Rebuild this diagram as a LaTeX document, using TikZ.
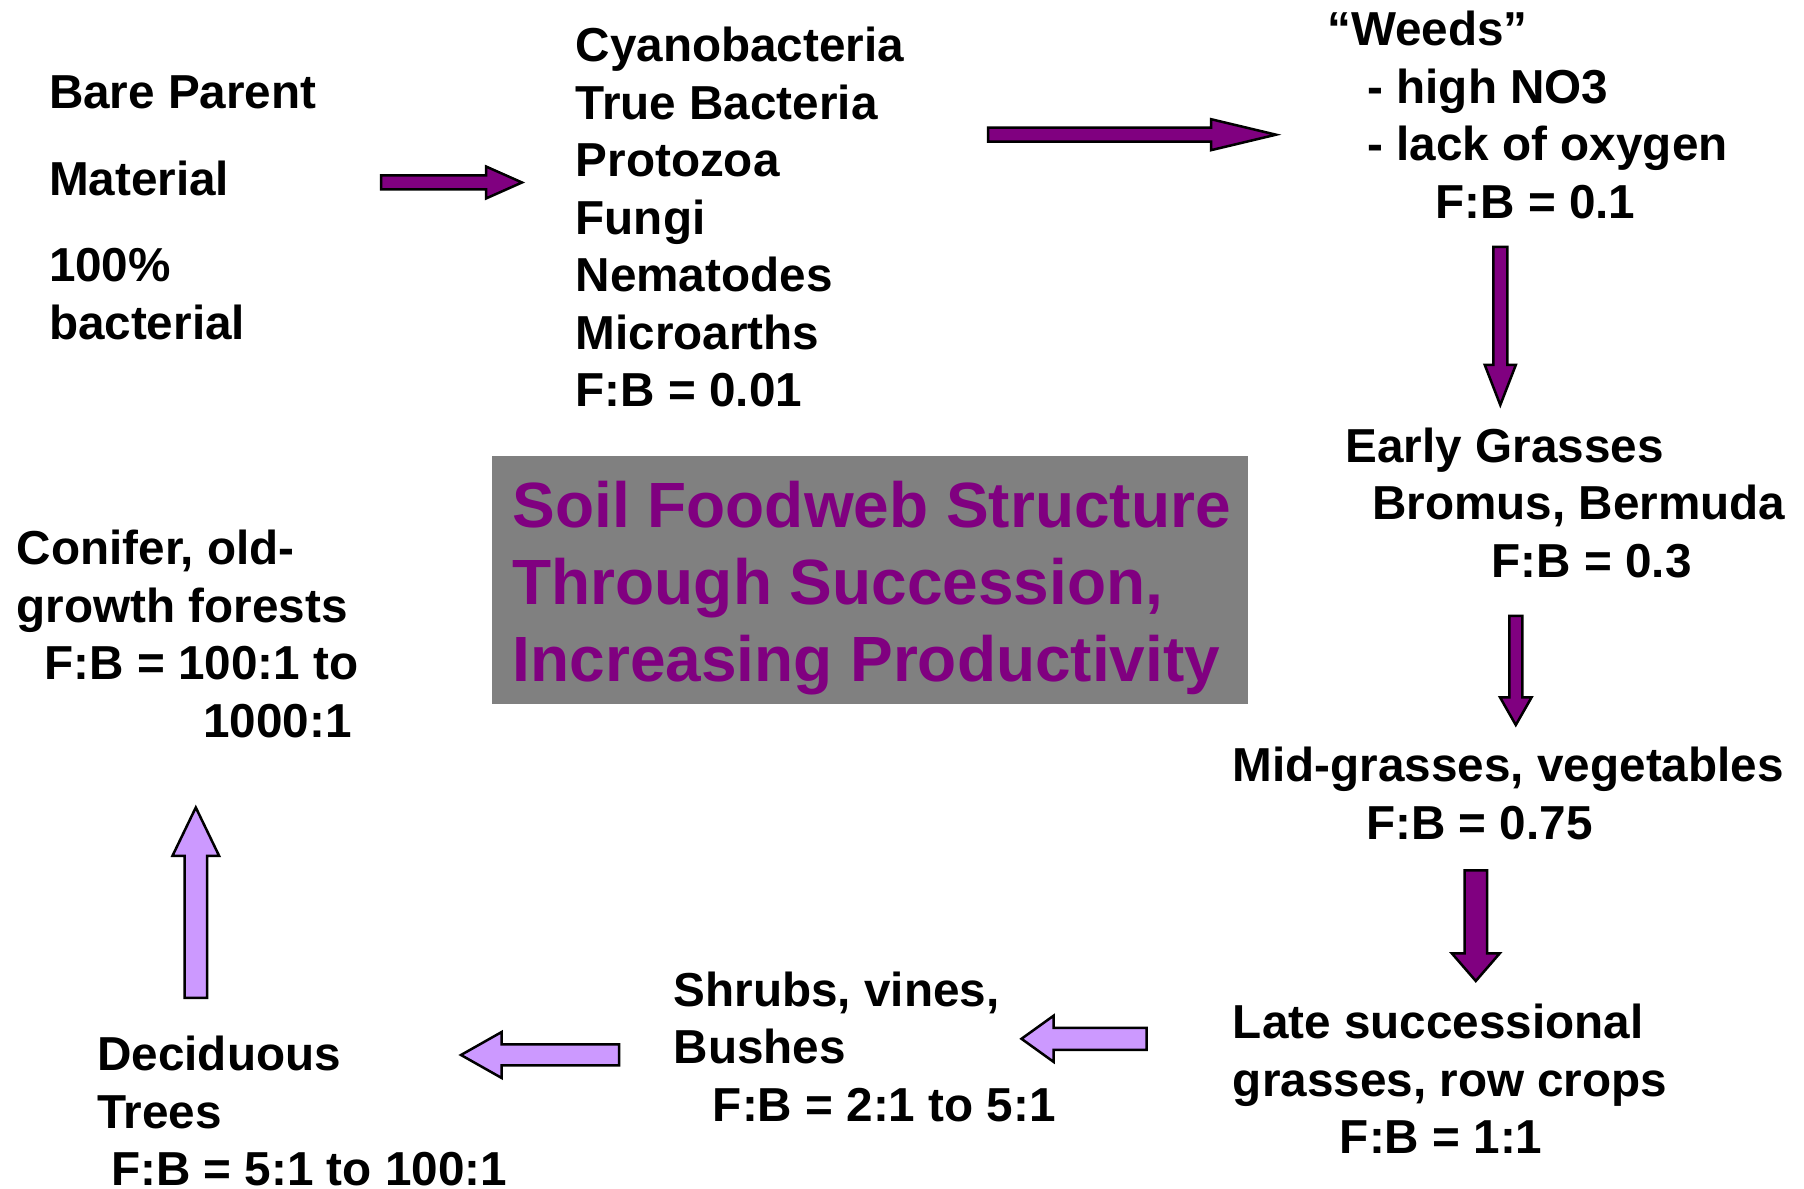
\documentclass[tikz,border=0pt]{standalone}
\usepackage{fontspec}
\setmainfont{Liberation Sans}
\usepackage{xcolor}
\usepackage{tikz}
\usetikzlibrary{calc}

\definecolor{fbpurple}{HTML}{800080}
\definecolor{fblilac}{HTML}{CC99FF}
\definecolor{fbgray}{HTML}{808080}

\tikzset{
	stage/.style={anchor=north west, inner sep=0pt, align=left,
		font=\fontsize{13.56pt}{16.36pt}\selectfont\bfseries},
	heading/.style={anchor=north west, inner sep=0pt, align=left, text=fbpurple,
		font=\fontsize{18.2pt}{21.9pt}\selectfont\bfseries},
}

% block arrow: tail, tip, half shaft, half head, head length, fill
\newcommand{\blockarrow}[6]{
	\coordinate (bab) at ($(#2)!#5!(#1)$);
	\filldraw[fill=#6, draw=black, line width=0.25mm, line join=miter]
		($(#1)!#3!90:(#2)$) -- ($(bab)!#3!90:(#2)$) -- ($(bab)!#4!90:(#2)$) -- (#2)
		-- ($(bab)!#4!-90:(#2)$) -- ($(bab)!#3!-90:(#2)$) -- ($(#1)!#3!-90:(#2)$) -- cycle;
}

\begin{document}
\begin{tikzpicture}[x=0.1mm,y=-0.1mm]
			\useasboundingbox (0,0) rectangle (1804,1189);

			\fill[fbgray] (492.4,455.6) rectangle (1248.3,704.1);
			\node[heading] (title) at (512,480.5) {Soil Foodweb Structure\\Through Succession,\\Increasing Productivity};

			\node[stage] (bare) at (48.3,74.8) {Bare Parent\\[3mm]Material\\[2.87mm]100\%\\bacterial};
			\node[stage] (microbes) at (575,26.5) {Cyanobacteria\\True Bacteria\\Protozoa\\Fungi\\Nematodes\\Microarths\\F:B = 0.01};
			\node[stage] (weeds) at (1326.5,10.5) {“Weeds”\\\hspace*{4.03mm}- high NO3\\\hspace*{4.03mm}- lack of oxygen\\\hspace*{10.82mm}F:B = 0.1};
			\node[stage] (early) at (1345,426.9) {Early Grasses\\\hspace*{2.64mm}Bromus, Bermuda\\\hspace*{14.6mm}F:B = 0.3};
			\node[stage] (mid) at (1232.2,746.7) {Mid-grasses, vegetables\\\hspace*{13.34mm}F:B = 0.75};
			\node[stage] (late) at (1232.2,1003.3) {Late successional\\grasses, row crops\\\hspace*{10.7mm}F:B = 1:1};
			\node[stage] (shrubs) at (673,971.1) {Shrubs, vines,\\Bushes\\\hspace*{3.92mm}F:B = 2:1 to 5:1};
			\node[stage] (decid) at (96.6,1035.5) {Deciduous\\Trees\\\hspace*{1.38mm}F:B = 5:1 to 100:1};
			\node[stage] (conifer) at (16.1,529.3) {Conifer, old-\\growth forests\\\hspace*{2.76mm}F:B = 100:1 to\\\hspace*{18.64mm}1000:1};

			\coordinate (a1s) at (381,182.5);   \coordinate (a1e) at (522,182.5);
			\coordinate (a2s) at (988,134.7);   \coordinate (a2e) at (1276,134.7);
			\coordinate (a3s) at (1500.3,247);  \coordinate (a3e) at (1500.3,405);
			\coordinate (a4s) at (1515.8,616);  \coordinate (a4e) at (1515.8,725);
			\coordinate (a5s) at (1475.8,870.5);\coordinate (a5e) at (1475.8,981);
			\coordinate (a6s) at (1146.5,1038.8);\coordinate (a6e) at (1021.5,1038.8);
			\coordinate (a7s) at (619,1055);    \coordinate (a7e) at (461,1055);
			\coordinate (a8s) at (195.8,998);   \coordinate (a8e) at (195.8,807.5);

			\blockarrow{a1s}{a1e}{0.7mm}{1.6mm}{3.6mm}{fbpurple}
			\blockarrow{a2s}{a2e}{0.7mm}{1.55mm}{6.5mm}{fbpurple}
			\blockarrow{a3s}{a3e}{0.7mm}{1.55mm}{4mm}{fbpurple}
			\blockarrow{a4s}{a4e}{0.65mm}{1.58mm}{2.77mm}{fbpurple}
			\blockarrow{a5s}{a5e}{1.13mm}{2.4mm}{2.77mm}{fbpurple}
			\blockarrow{a6s}{a6e}{1.1mm}{2.3mm}{3.2mm}{fblilac}
			\blockarrow{a7s}{a7e}{1.05mm}{2.3mm}{4.07mm}{fblilac}
			\blockarrow{a8s}{a8e}{1.13mm}{2.33mm}{4.83mm}{fblilac}
		\end{tikzpicture}
\end{document}
